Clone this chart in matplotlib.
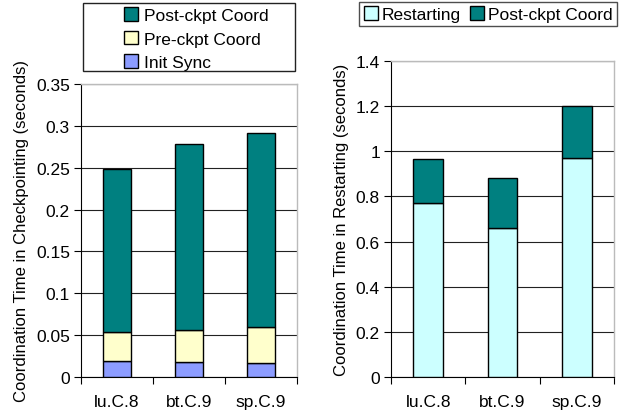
import matplotlib
matplotlib.use("Agg")
import matplotlib.pyplot as plt
from matplotlib.patches import Rectangle
import numpy as np

plt.rcParams['font.family'] = ['Liberation Sans', 'DejaVu Sans']

categories = ["lu.C.8", "bt.C.9", "sp.C.9"]
# Left chart: checkpointing coordination (seconds)
init_sync = [0.019, 0.018, 0.017]
pre_ckpt = [0.035, 0.038, 0.043]
post_ckpt = [0.195, 0.222, 0.232]
# Right chart: restarting coordination (seconds)
restarting = [0.77, 0.66, 0.97]
post_ckpt_restart = [0.195, 0.22, 0.23]

c_post = "#008080"
c_pre = "#FFFFCC"
c_init = "#8C9CFF"
c_restart = "#CCFFFF"

W, H = 623, 414
fig = plt.figure(figsize=(W / 100, H / 100), dpi=100)

def axrect(l, r, t, b):
    return [l / W, 1 - b / H, (r - l) / W, (b - t) / H]

def style(ax, ymax, step, fmt):
    x = np.arange(len(categories))
    ax.set_xlim(-0.5, len(categories) - 0.5)
    ax.set_ylim(0, ymax)
    ticks = np.arange(0, ymax + step / 2, step)
    ax.set_yticks(ticks)
    ax.set_yticklabels([fmt(v) for v in ticks], fontsize=12.5)
    ax.set_xticks(x)
    ax.set_xticklabels(categories, fontsize=12.5)
    ax.set_xticks(np.arange(-0.5, len(categories)), minor=True)
    ax.tick_params(axis='x', which='major', length=0, pad=12)
    ax.tick_params(axis='x', which='minor', length=5, width=0.8, color='black', direction='out')
    ax.tick_params(axis='y', length=5, width=0.8, direction='out', pad=3)
    ax.grid(axis='y', color='#222222', linewidth=0.8)
    ax.set_axisbelow(True)
    for s in ['top', 'right']:
        ax.spines[s].set_color('#BBBBBB')
        ax.spines[s].set_linewidth(1.0)
    for s in ['left', 'bottom']:
        ax.spines[s].set_color('black')
        ax.spines[s].set_linewidth(0.8)

def fmt_left(v):
    return f"{v:.2f}".rstrip('0').rstrip('.')

def fmt_right(v):
    return f"{v:.1f}".rstrip('0').rstrip('.')

x = np.arange(len(categories))
bw = 0.4

# Left axes
ax1 = fig.add_axes(axrect(81, 297, 85, 378))
b1 = ax1.bar(x, init_sync, bw, color=c_init, edgecolor='black', linewidth=1, label="Init Sync", zorder=3)
b2 = ax1.bar(x, pre_ckpt, bw, bottom=init_sync, color=c_pre, edgecolor='black', linewidth=1, label="Pre-ckpt Coord", zorder=3)
b3 = ax1.bar(x, post_ckpt, bw, bottom=np.add(init_sync, pre_ckpt), color=c_post, edgecolor='black', linewidth=1, label="Post-ckpt Coord", zorder=3)
style(ax1, 0.35, 0.05, fmt_left)
ax1.set_ylabel("Coordination Time in Checkpointing (seconds)", fontsize=12, labelpad=5)

fig.patches.append(Rectangle((83 / W, 1 - 72 / H), 212 / W, 68 / H, transform=fig.transFigure,
                             facecolor='white', edgecolor='#222222', linewidth=1.0, zorder=0))
leg1 = fig.legend([b3, b2, b1], ["Post-ckpt Coord", "Pre-ckpt Coord", "Init Sync"],
                  loc='upper left', bbox_to_anchor=(121 / W, 1 - 5 / H), borderaxespad=0,
                  fontsize=12.5, frameon=False,
                  handlelength=0.8, handleheight=0.8, handletextpad=0.3, labelspacing=0.45,
                  borderpad=0.2)

# Right axes
ax2 = fig.add_axes(axrect(391, 614, 62, 378))
r1 = ax2.bar(x, restarting, bw, color=c_restart, edgecolor='black', linewidth=1, label="Restarting", zorder=3)
r2 = ax2.bar(x, post_ckpt_restart, bw, bottom=restarting, color=c_post, edgecolor='black', linewidth=1, label="Post-ckpt Coord", zorder=3)
style(ax2, 1.4, 0.2, fmt_right)
ax2.set_ylabel("Coordination Time in Restarting (seconds)", fontsize=12, labelpad=5)
leg2 = fig.legend([r1, r2], ["Restarting", "Post-ckpt Coord"], ncol=2,
                  loc='upper right', bbox_to_anchor=(617 / W, 1 - 3 / H), borderaxespad=0,
                  fontsize=12.5, frameon=True, fancybox=False, edgecolor='#222222',
                  handlelength=0.8, handleheight=0.8, handletextpad=0.25, columnspacing=0.5,
                  borderpad=0.25)
leg2.get_frame().set_linewidth(1.0)

fig.savefig("out.png", dpi=100)
